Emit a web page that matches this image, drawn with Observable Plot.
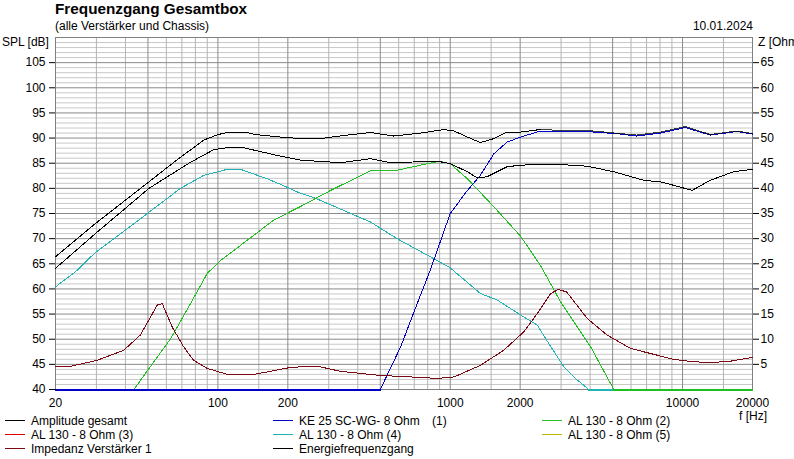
<!DOCTYPE html>
<html><head><meta charset="utf-8">
<script src="https://cdn.jsdelivr.net/npm/d3@7"></script>
<script src="https://cdn.jsdelivr.net/npm/@observablehq/plot@0.6"></script>
<style>
body{margin:0;background:#fff;}
#wrap{position:relative;width:794px;height:459px;overflow:hidden;font-family:"Liberation Sans",Arial,sans-serif;font-size:12px;color:#000;background:#fff;}
.t{position:absolute;white-space:nowrap;line-height:14px;z-index:2;}
.sw{position:absolute;height:1px;width:20px;z-index:3;}
#chart{position:absolute;left:0;top:30px;z-index:1;}
</style></head><body>
<div id="wrap">
  <div class="t" style="left:55px;top:0px;font-size:15.3px;font-weight:bold;line-height:18px;">Frequenzgang Gesamtbox</div>
  <div class="t" style="left:55px;top:18.5px;">(alle Verstärker und Chassis)</div>
  <div class="t" style="right:41px;top:19px;">10.01.2024</div>
  <div class="t" style="left:2px;top:35px;">SPL [dB]</div>
  <div class="t" style="left:758px;top:35px;">Z [Ohm]</div>
  <div id="chart"></div>
  <div class="t" style="left:739px;top:409px;">f [Hz]</div>
</div>
<script>
// ---- axis / tick data ----
const xTicks = [20, 50, 100, 200, 500, 1000, 2000, 5000, 10000, 20000];
const xMinorGrid = [30, 40, 60, 70, 80, 90, 150, 300, 400, 600, 700, 800, 900, 1500, 3000, 4000, 6000, 7000, 8000, 9000, 15000];
const splTicks = [40, 45, 50, 55, 60, 65, 70, 75, 80, 85, 90, 95, 100, 105];
const zTicks = [5, 10, 15, 20, 25, 30, 35, 40, 45, 50, 55, 60, 65];
const splGridLines = d3.range(40, 111, 1);
const zOffset = 40; // Z axis 0 Ohm aligned with 40 dB
const splFloor = 40;

// ---- series ----
const amplFreq = [20, 29.7, 50.5, 66.8, 87, 100, 110, 134, 145, 186, 227, 276, 360, 454, 572, 750, 938, 1040, 1186, 1348, 1543, 1756, 2008, 2443, 3088, 3890, 5400, 6360, 8040, 10280, 13150, 17130, 20000];
const amplDb   = [66.4, 73.0, 81.3, 85.7, 89.6, 90.7, 91.1, 91.1, 90.7, 90.2, 89.9, 89.9, 90.6, 91.1, 90.4, 91.0, 91.7, 91.4, 90.2, 89.1, 89.9, 91.2, 91.2, 91.7, 91.5, 91.5, 90.9, 90.6, 91.2, 92.3, 90.7, 91.4, 90.9];

const keFreq = [20, 500, 612, 721, 820, 1000, 1186, 1348, 1543, 1756, 2008, 2443, 3088, 3890, 5400, 6360, 8040, 10280, 13150, 17130, 20000];
const keDb   = [40, 40, 48.5, 57.1, 63.7, 75.0, 79.6, 82.6, 86.9, 89.2, 90.2, 91.4, 91.3, 91.3, 90.8, 90.4, 91.0, 92.1, 90.6, 91.3, 90.8];

const al2Freq = [43.5, 51.3, 62.6, 76.3, 90, 103, 134, 174, 227, 306, 454, 590, 743, 902, 1000, 1186, 1543, 2008, 2443, 2980, 4020, 5060, 20000];
const al2Db   = [40, 44.6, 50.1, 57.1, 63.1, 65.7, 69.7, 73.7, 76.4, 79.6, 83.5, 83.6, 84.6, 85.4, 84.9, 81.9, 76.3, 70.5, 64.7, 57.5, 48.5, 40, 40];

const al4Freq = [20, 24.8, 29.3, 49.7, 69, 87, 110, 125, 163, 186, 227, 258, 454, 590, 820, 1000, 1348, 1592, 2076, 2370, 2710, 3088, 3520, 3950, 20000];
const al4Db   = [60.4, 63.7, 67.0, 75.0, 80.0, 82.6, 83.8, 83.8, 81.9, 80.8, 79.0, 78.2, 73.3, 70.0, 66.4, 64.2, 59.1, 57.8, 54.4, 52.8, 48.5, 44.5, 41.9, 40, 40];

const impFreq = [20, 23.2, 30.2, 39.3, 46.3, 51.3, 54.8, 57.6, 63.6, 71.2, 78.6, 90, 110, 143, 206, 251, 276, 338, 500, 743, 880, 1040, 1348, 1700, 2076, 2370, 2710, 2920, 3170, 3890, 4740, 5950, 6800, 9160, 10280, 12300, 15500, 20000];
const impOhm  = [4.6, 4.6, 5.8, 7.8, 10.8, 14.4, 16.8, 17.1, 12.4, 8.5, 5.8, 4.2, 3.0, 3.0, 4.4, 4.6, 4.5, 3.6, 2.8, 2.4, 2.2, 2.5, 4.8, 7.8, 11.5, 15.1, 19.1, 19.9, 19.4, 14.1, 10.8, 8.2, 7.5, 6.0, 5.7, 5.4, 5.5, 6.4];

const energFreq = [20, 29.7, 50.5, 76.3, 96, 110, 129, 143, 186, 227, 338, 454, 554, 880, 1000, 1186, 1305, 1440, 1756, 2008, 2443, 3088, 3890, 5060, 6800, 8040, 9160, 11000, 13150, 16580, 20000];
const energDb   = [64.1, 71.0, 80.0, 85.2, 87.7, 88.1, 88.1, 87.6, 86.4, 85.6, 85.1, 85.9, 85.1, 85.4, 84.9, 83.3, 82.1, 82.3, 84.3, 84.6, 84.8, 84.7, 84.4, 83.3, 81.6, 81.3, 80.6, 79.6, 81.6, 83.3, 83.8];

// ---- legend ----
const legendNames = ["Amplitude gesamt", "KE 25 SC-WG- 8 Ohm", "AL 130 - 8 Ohm (2)", "AL 130 - 8 Ohm (3)", "AL 130 - 8 Ohm (4)", "AL 130 - 8 Ohm (5)", "Impedanz Verstärker 1", "Energiefrequenzgang"];
const legendColors = ["#000000", "#0000c8", "#1fbf1f", "#e00000", "#20b4b4", "#bcb400", "#7a0a14", "#000000"];

const zip = (fs, vs) => fs.map((f, i) => ({f, v: vs[i]}));
// points of a series lying on the floor of the SPL axis (drawn slightly thicker so they show over the frame)
const floorPts = (fs, vs) => zip(fs, vs).filter(d => d.v === splFloor);
const lineOpts = (c) => ({x: "f", y: "v", stroke: c, strokeWidth: 1, shapeRendering: "crispEdges"});

const chart = Plot.plot({
  width: 794,
  height: 382,
  marginTop: 7,
  marginBottom: 23,
  marginLeft: 55,
  marginRight: 42,
  style: {fontFamily: "'Liberation Sans', Arial, sans-serif", fontSize: "12px", background: "transparent"},
  x: {type: "log", domain: [20, 20000], axis: null},
  y: {domain: [40, 110], axis: null},
  marks: [
    Plot.ruleY(splGridLines.filter(d => d % 5 !== 0), {stroke: "#c8c8c8", strokeWidth: 1}),
    Plot.ruleX(xMinorGrid, {stroke: "#b4b4b4", strokeWidth: 1}),
    Plot.ruleY(splGridLines.filter(d => d % 5 === 0), {stroke: "#8a8a8a", strokeWidth: 1}),
    Plot.ruleX(xTicks, {stroke: "#8a8a8a", strokeWidth: 1}),
    Plot.frame({stroke: "#808080"}),
    Plot.axisX(xTicks, {anchor: "bottom", tickSize: 0, tickPadding: 9, tickFormat: d3.format("d"), fontSize: 12, label: null}),
    Plot.axisY(splTicks, {anchor: "left", tickSize: 6, tickPadding: 4, fontSize: 12, label: null}),
    Plot.axisY(zTicks.map(z => z + zOffset), {anchor: "right", tickSize: 6, tickPadding: 2, fontSize: 12, tickFormat: d => d - zOffset, label: null}),
    Plot.line(floorPts(al4Freq, al4Db), {...lineOpts(legendColors[4]), dy: 1}),
    Plot.line(zip(al4Freq, al4Db), lineOpts(legendColors[4])),
    Plot.line(floorPts(al2Freq, al2Db).filter(d => d.f > 1000), {...lineOpts(legendColors[2]), dy: 1}),
    Plot.line(zip(al2Freq, al2Db), lineOpts(legendColors[2])),
    Plot.line(floorPts(keFreq, keDb), {...lineOpts(legendColors[1]), dy: 1}),
    Plot.line(zip(keFreq, keDb), lineOpts(legendColors[1])),
    Plot.line(zip(impFreq, impOhm.map(z => z + zOffset)), lineOpts(legendColors[6])),
    Plot.line(zip(energFreq, energDb), lineOpts(legendColors[7])),
    Plot.line(zip(amplFreq.filter(f => f >= 2443), amplDb.filter((v, i) => amplFreq[i] >= 2443)), {...lineOpts(legendColors[0]), strokeOpacity: 0.75}),
    Plot.line(zip(amplFreq.filter(f => f <= 2443), amplDb.filter((v, i) => amplFreq[i] <= 2443)), lineOpts(legendColors[0]))
  ]
});
document.getElementById("chart").appendChild(chart);

// legend layout: 3 columns, 3 rows
const colText = [31, 299, 568];
const rowTop = [414, 428, 441.5];
const rowLine = [420, 434, 448];
const wrap = document.getElementById("wrap");
legendNames.forEach((name, i) => {
  const col = i % 3, row = Math.floor(i / 3);
  const sw = document.createElement("div");
  sw.className = "sw";
  sw.style.left = (colText[col] - 26) + "px";
  sw.style.top = rowLine[row] + "px";
  sw.style.backgroundColor = legendColors[i];
  wrap.appendChild(sw);
  const t = document.createElement("div");
  t.className = "t";
  t.style.left = colText[col] + "px";
  t.style.top = rowTop[row] + "px";
  t.textContent = name;
  wrap.appendChild(t);
});
const one = document.createElement("div");
one.className = "t";
one.style.left = "432px";
one.style.top = rowTop[0] + "px";
one.textContent = "(1)";
wrap.appendChild(one);
</script>
</body></html>
